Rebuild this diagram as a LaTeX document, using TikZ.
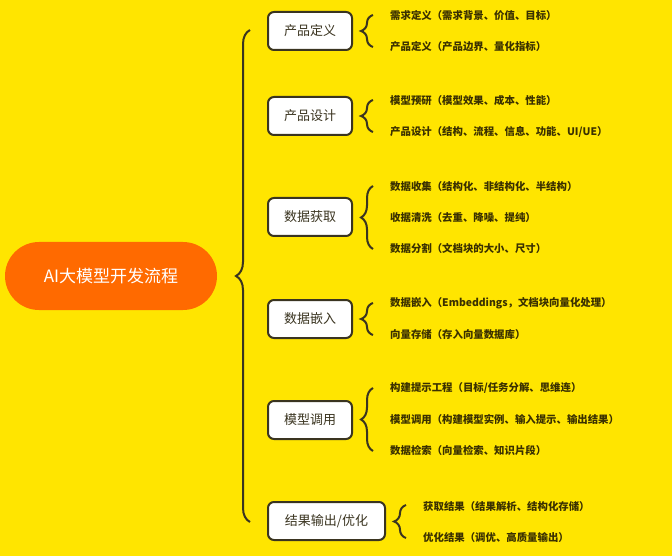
\documentclass[tikz,border=0pt]{standalone}
\usepackage{fontspec}
\setmainfont{Noto Sans CJK SC}
\usetikzlibrary{decorations.pathreplacing}
\definecolor{bg}{HTML}{FFE500}
\definecolor{pill}{HTML}{FF6A00}
\definecolor{ink}{HTML}{3A3420}
\definecolor{leafink}{HTML}{3A3000}
\tikzset{
  root/.style={rounded corners=34pt, fill=pill, minimum width=212pt, minimum height=68pt, text=white, font=\fontsize{17}{20}\selectfont},
  stage/.style={draw=ink, line width=2pt, rounded corners=6pt, fill=white, minimum height=38pt, inner xsep=8pt, text=ink, font=\fontsize{13}{16}\selectfont},
  leaf/.style={anchor=west, text=leafink, font=\fontsize{10.4}{12}\selectfont\bfseries, inner sep=0pt},
  bigbrace/.style={draw=ink, line width=2pt, decorate, decoration={brace, amplitude=14pt, mirror}},
  smallbrace/.style={draw=ink, line width=2pt, decorate, decoration={brace, amplitude=12pt, mirror}},
}
\begin{document}
\begin{tikzpicture}[x=1pt, y=-1pt]
\useasboundingbox[fill=bg] (0,0) rectangle (672,556);
\node[root] (root) at (111,276) {AI大模型开发流程};

\coordinate (bt) at (250,30);
\coordinate (bb) at (250,522);
\draw[bigbrace] (bt) -- (bb);

\node[stage, minimum width=84pt] (s1) at (310,31) {产品定义};
\node[stage, minimum width=84pt] (s2) at (310,116) {产品设计};
\node[stage, minimum width=84pt] (s3) at (310,217) {数据获取};
\node[stage, minimum width=84pt] (s4) at (310,319) {数据嵌入};
\node[stage, minimum width=84pt] (s5) at (310,420) {模型调用};
\node[stage, minimum width=117pt] (s6) at (326.5,521) {结果输出/优化};

% stage 1
\coordinate (a1) at (373,15); \coordinate (b1) at (373,47);
\draw[smallbrace] (a1) -- (b1);
\node[leaf] (l11) at (390,16) {需求定义（需求背景、价值、目标）};
\node[leaf] (l12) at (390,47) {产品定义（产品边界、量化指标）};
% stage 2
\coordinate (a2) at (373,100); \coordinate (b2) at (373,132);
\draw[smallbrace] (a2) -- (b2);
\node[leaf] (l21) at (390,101) {模型预研（模型效果、成本、性能）};
\node[leaf] (l22) at (390,132) {产品设计（结构、流程、信息、功能、UI/UE）};
% stage 3
\coordinate (a3) at (373,186); \coordinate (b3) at (373,249);
\draw[smallbrace] (a3) -- (b3);
\node[leaf] (l31) at (390,187) {数据收集（结构化、非结构化、半结构）};
\node[leaf] (l32) at (390,218) {收据清洗（去重、降噪、提纯）};
\node[leaf] (l33) at (390,249) {数据分割（文档块的大小、尺寸）};
% stage 4
\coordinate (a4) at (373,303); \coordinate (b4) at (373,335);
\draw[smallbrace] (a4) -- (b4);
\node[leaf] (l41) at (390,303) {数据嵌入（Embeddings，文档块向量化处理）};
\node[leaf] (l42) at (390,335) {向量存储（存入向量数据库）};
% stage 5
\coordinate (a5) at (373,388); \coordinate (b5) at (373,451);
\draw[smallbrace] (a5) -- (b5);
\node[leaf] (l51) at (390,388) {构建提示工程（目标/任务分解、思维连）};
\node[leaf] (l52) at (390,420) {模型调用（构建模型实例、输入提示、输出结果）};
\node[leaf] (l53) at (390,451) {数据检索（向量检索、知识片段）};
% stage 6
\coordinate (a6) at (406,505); \coordinate (b6) at (406,538);
\draw[smallbrace] (a6) -- (b6);
\node[leaf] (l61) at (423,507) {获取结果（结果解析、结构化存储）};
\node[leaf] (l62) at (423,538) {优化结果（调优、高质量输出）};
\end{tikzpicture}
\end{document}
